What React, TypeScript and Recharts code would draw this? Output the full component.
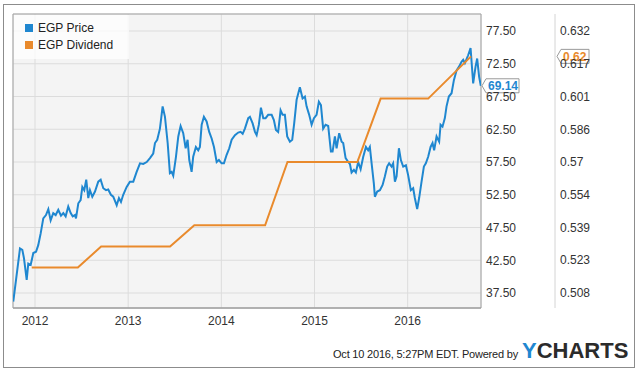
import React from 'react';
import {
  CartesianGrid,
  ComposedChart,
  Legend,
  Line,
  ReferenceArea,
  ReferenceDot,
  XAxis,
  YAxis,
} from 'recharts';

// dates are decimal years
const priceDates = [
  2011.767, 2011.839, 2011.864, 2011.882, 2011.911, 2011.928, 2011.954, 2011.982, 2012.011, 2012.035,
  2012.061, 2012.089, 2012.118, 2012.143, 2012.168, 2012.196, 2012.222, 2012.25, 2012.279, 2012.304,
  2012.329, 2012.357, 2012.383, 2012.405, 2012.429, 2012.44, 2012.465, 2012.49, 2012.508, 2012.529,
  2012.55, 2012.572, 2012.59, 2012.615, 2012.644, 2012.679, 2012.705, 2012.733, 2012.762, 2012.786,
  2012.815, 2012.84, 2012.877, 2012.901, 2012.923, 2012.947, 2012.984, 2013.019, 2013.055, 2013.091,
  2013.127, 2013.162, 2013.199, 2013.234, 2013.269, 2013.288, 2013.312, 2013.341, 2013.37, 2013.395,
  2013.424, 2013.448, 2013.467, 2013.484, 2013.513, 2013.538, 2013.563, 2013.591, 2013.617, 2013.638,
  2013.656, 2013.681, 2013.698, 2013.727, 2013.752, 2013.77, 2013.789, 2013.813, 2013.842, 2013.87,
  2013.896, 2013.921, 2013.95, 2013.974, 2014.003, 2014.028, 2014.057, 2014.085, 2014.111, 2014.146,
  2014.181, 2014.207, 2014.229, 2014.253, 2014.289, 2014.307, 2014.336, 2014.361, 2014.379, 2014.403,
  2014.425, 2014.45, 2014.475, 2014.503, 2014.54, 2014.564, 2014.586, 2014.61, 2014.636, 2014.658,
  2014.682, 2014.707, 2014.736, 2014.761, 2014.782, 2014.808, 2014.843, 2014.872, 2014.897, 2014.915,
  2014.943, 2014.969, 2014.994, 2015.022, 2015.047, 2015.069, 2015.093, 2015.119, 2015.147, 2015.176,
  2015.194, 2015.219, 2015.237, 2015.265, 2015.291, 2015.308, 2015.334, 2015.362, 2015.38, 2015.398,
  2015.423, 2015.444, 2015.469, 2015.495, 2015.523, 2015.552, 2015.576, 2015.594, 2015.613, 2015.637,
  2015.648, 2015.673, 2015.702, 2015.731, 2015.755, 2015.78, 2015.801, 2015.827, 2015.844, 2015.863,
  2015.881, 2015.906, 2015.927, 2015.952, 2015.981, 2016.005, 2016.034, 2016.059, 2016.077, 2016.102,
  2016.123, 2016.149, 2016.174, 2016.195, 2016.22, 2016.246, 2016.267, 2016.284, 2016.31, 2016.338,
  2016.353, 2016.374, 2016.399, 2016.417, 2016.442, 2016.471, 2016.496, 2016.525, 2016.553, 2016.578,
  2016.596, 2016.614, 2016.649, 2016.675, 2016.703, 2016.729, 2016.746, 2016.767, 2016.785,
];

const priceValues = [
  36.2, 44.3, 44.1, 42.8, 39.5, 42.0, 41.8, 43.6, 43.8, 44.8,
  46.6, 48.9, 49.4, 50.3, 48.6, 49.7, 49.4, 50.2, 49.3, 49.7,
  49.2, 50.7, 49.7, 49.2, 49.4, 48.9, 51.2, 51.7, 53.7, 53.2,
  54.8, 52.0, 53.2, 52.2, 53.0, 54.5, 54.8, 53.5, 53.2, 53.3,
  52.5, 52.2, 50.9, 52.0, 51.4, 52.5, 53.7, 54.5, 54.5, 56.0,
  57.3, 57.2, 57.5, 58.1, 58.8, 60.4, 60.9, 62.6, 66.0, 64.4,
  60.4, 55.8, 56.0, 55.4, 58.3, 61.4, 63.0, 61.9, 59.6, 60.9,
  57.8, 56.0, 58.3, 59.8, 59.3, 59.8, 63.2, 64.4, 63.7, 62.1,
  61.1, 59.8, 57.5, 57.8, 57.3, 57.3, 58.6, 59.6, 60.9, 61.6,
  62.0, 62.1, 61.8, 62.6, 64.2, 64.4, 63.4, 62.1, 61.6, 63.2,
  65.8, 64.2, 64.2, 64.7, 64.7, 63.9, 62.4, 62.1, 65.4, 64.7,
  64.7, 61.4, 60.6, 60.9, 63.4, 67.0, 68.9, 67.2, 67.5, 66.0,
  64.7, 63.2, 64.2, 64.7, 66.7, 66.2, 62.6, 63.2, 63.0, 59.1,
  59.1, 61.4, 59.6, 61.9, 60.6, 60.4, 58.1, 57.5, 57.2, 55.9,
  56.3, 55.9, 57.5, 56.4, 58.3, 59.8, 59.3, 59.8, 57.3, 54.2,
  52.2, 53.0, 53.2, 54.0, 55.3, 56.8, 57.3, 56.8, 57.3, 54.5,
  55.3, 59.6, 57.8, 56.8, 57.0, 55.5, 53.2, 53.5, 52.0, 50.3,
  52.0, 54.5, 56.8, 57.3, 58.3, 59.8, 60.4, 59.3, 61.4, 60.6,
  63.2, 62.9, 64.2, 66.0, 67.5, 68.0, 70.0, 71.5, 72.1, 72.8,
  73.1, 72.6, 73.8, 74.9, 69.5, 72.1, 73.3, 70.5, 69.14,
];

const divDates = [
  2011.965, 2012.215, 2012.46, 2012.71, 2012.96, 2013.21, 2013.45, 2013.71, 2013.96, 2014.21,
  2014.47, 2014.71, 2014.96, 2015.21, 2015.46, 2015.71, 2015.96, 2016.22, 2016.68,
];
const divValues = [
  0.52, 0.52, 0.52, 0.53, 0.53, 0.53, 0.53, 0.54, 0.54, 0.54,
  0.54, 0.57, 0.57, 0.57, 0.57, 0.6, 0.6, 0.6, 0.62,
];

const yearTicks = [2012, 2013, 2014, 2015, 2016];
const priceTicks = [37.5, 42.5, 47.5, 52.5, 57.5, 62.5, 67.5, 72.5, 77.5];
const divTicks = [0.508, 0.5235, 0.539, 0.5545, 0.57, 0.5855, 0.601, 0.6165, 0.632];
const divTickLabels = ['0.508', '0.523', '0.539', '0.554', '0.57', '0.586', '0.601', '0.617', '0.632'];

const X_MIN = 2011.764;
const X_MAX = 2016.787;
const PRICE_MIN = 35.21;
const PRICE_MAX = 80.1;
const DIV_MIN = 0.50087;
const DIV_MAX = 0.64006;

const BLUE = '#1f87d0';
const ORANGE = '#e98a2c';

const priceData = priceDates.map((t, i) => ({ t, v: priceValues[i] }));
const divData = divDates.map((t, i) => ({ t, v: divValues[i] }));
const lastPrice = priceValues[priceValues.length - 1];
const lastDiv = divValues[divValues.length - 1];

function Tag({ cx, cy, dx, w, text, color }: any) {
  if (cx == null || cy == null) return null;
  const x = cx + dx;
  const d = `M${x},${cy} L${x + 4},${cy - 7} L${x + w},${cy - 7} L${x + w},${cy + 7} L${x + 4},${cy + 7} Z`;
  return (
    <g>
      <path d={d} fill="#fff" stroke="#9a9a9a" strokeWidth={1} />
      <text x={x + 6} y={cy + 4.5} fill={color} fontSize={12} fontWeight="bold">
        {text}
      </text>
    </g>
  );
}

function LegendBox() {
  const items = [
    { name: 'EGP Price', color: BLUE },
    { name: 'EGP Dividend', color: ORANGE },
  ];
  return (
    <div style={{ background: 'rgba(255,255,255,0.75)', padding: '4px 0 0 11px', height: 40 }}>
      {items.map((it) => (
        <div key={it.name} style={{ display: 'flex', alignItems: 'center', height: 17, fontSize: 12, color: '#222' }}>
          <span style={{ width: 8, height: 8, background: it.color, marginRight: 5, display: 'inline-block' }} />
          {it.name}
        </div>
      ))}
    </div>
  );
}

export default function App() {
  return (
    <div
      style={{
        position: 'absolute',
        left: 0,
        top: 0,
        width: 640,
        height: 375,
        background: '#fff',
        fontFamily: '"Liberation Sans", Arial, sans-serif',
      }}
    >
      <div
        style={{
          position: 'absolute',
          left: 3,
          top: 4,
          width: 630,
          height: 362,
          border: '1px solid #8c8c8c',
        }}
      />
      <ComposedChart width={640} height={375} margin={{ top: 14, right: 6, bottom: 37, left: 13 }}>
        <CartesianGrid yAxisId="price" stroke="#dcdcdc" fill="#f4f4f4" />
        <XAxis
          type="number"
          dataKey="t"
          domain={[X_MIN, X_MAX]}
          ticks={yearTicks}
          allowDataOverflow
          height={30}
          axisLine={{ stroke: '#9a9a9a' }}
          tickLine={false}
          tickSize={4}
          tickMargin={4}
          tick={{ fill: '#333', fontSize: 12 }}
          tickFormatter={(v: number) => String(v)}
        />
        <YAxis
          yAxisId="price"
          orientation="right"
          domain={[PRICE_MIN, PRICE_MAX]}
          ticks={priceTicks}
          allowDataOverflow
          width={74}
          tickSize={3}
          tickMargin={2}
          tickLine={false}
          axisLine={false}
          tick={{ fill: '#333', fontSize: 12 }}
          tickFormatter={(v: number) => v.toFixed(2)}
        />
        <YAxis
          yAxisId="yDiv"
          orientation="right"
          domain={[DIV_MIN, DIV_MAX]}
          ticks={divTicks}
          allowDataOverflow
          width={79}
          tickSize={3}
          tickMargin={2}
          tickLine={false}
          axisLine={{ stroke: '#d4d4d4' }}
          tick={{ fill: '#333', fontSize: 12 }}
          tickFormatter={(v: number, i: number) => divTickLabels[i]}
        />
        <ReferenceArea
          yAxisId="price"
          x1={X_MIN}
          x2={X_MAX}
          y1={PRICE_MIN}
          y2={PRICE_MAX}
          fill="none"
          stroke="#a4a4a4"
          ifOverflow="visible"
        />
        <Line
          yAxisId="price"
          data={priceData}
          dataKey="v"
          name="EGP Price"
          stroke={BLUE}
          strokeWidth={2}
          dot={false}
          isAnimationActive={false}
        />
        <Line
          yAxisId="yDiv"
          data={divData}
          dataKey="v"
          name="EGP Dividend"
          stroke={ORANGE}
          strokeWidth={2}
          dot={false}
          isAnimationActive={false}
        />
        <ReferenceDot
          yAxisId="price"
          x={X_MAX}
          y={lastPrice}
          ifOverflow="visible"
          shape={(p: any) => <Tag {...p} dx={1} w={37} text={lastPrice.toFixed(2)} color={BLUE} />}
        />
        <ReferenceDot
          yAxisId="yDiv"
          x={X_MAX}
          y={lastDiv}
          ifOverflow="visible"
          shape={(p: any) => <Tag {...p} dx={76} w={32} text={lastDiv.toFixed(2)} color={ORANGE} />}
        />
        <Legend
          layout="vertical"
          align="center"
          verticalAlign="middle"
          width={115}
          wrapperStyle={{ left: 14, top: 15, width: 115 }}
          content={() => <LegendBox />}
        />
      </ComposedChart>
      <span
        style={{
          position: 'absolute',
          left: 333,
          top: 348,
          fontSize: 11,
          lineHeight: '12px',
          color: '#222',
          letterSpacing: -0.2,
        }}
      >
        Oct 10 2016, 5:27PM EDT. Powered by
      </span>
      <span
        style={{
          position: 'absolute',
          left: 522,
          top: 340,
          fontSize: 22,
          lineHeight: '22px',
          fontWeight: 'bold',
          color: '#2b2b2b',
        }}
      >
        <span style={{ color: BLUE }}>Y</span>CHARTS
      </span>
    </div>
  );
}
